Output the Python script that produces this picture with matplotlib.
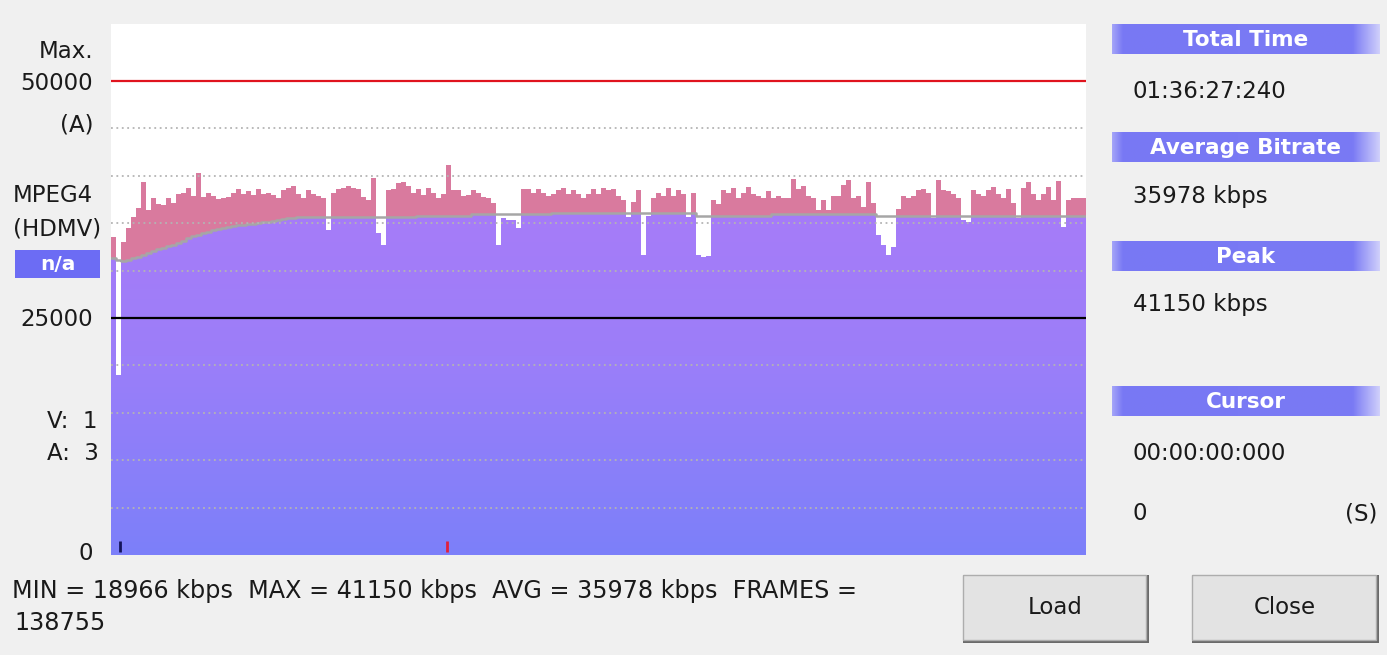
import numpy as np
import matplotlib
matplotlib.use('Agg')
import matplotlib.pyplot as plt
from matplotlib.colors import LinearSegmentedColormap
from matplotlib.patches import Rectangle, PathPatch
from matplotlib.path import Path

# ---------------- data ----------------
total_seconds = 5787.24
bitrate_kbps = [
    33500, 18966, 33000, 34450, 35600, 36550, 39300, 36350, 37700, 37000,
    36860, 37600, 37080, 38100, 38200, 38750, 37900, 40300, 37800, 38200,
    37900, 37500, 37700, 37800, 38200, 38650, 38100, 38350, 38000, 38650,
    38100, 38200, 38000, 37700, 38450, 38750, 38950, 38100, 37600, 38450,
    38100, 37900, 37600, 34250, 38200, 38650, 38750, 38950, 38750, 38650,
    37800, 37400, 39800, 34000, 32700, 38450, 38650, 39200, 39300, 38950,
    38200, 38650, 38000, 38750, 38200, 37600, 38100, 41150, 38450, 38450,
    37900, 38000, 38450, 38200, 37800, 37700, 37080, 32650, 35500, 35300,
    35300, 34500, 38650, 38650, 38200, 38650, 38200, 37900, 38100, 38450,
    38750, 38100, 38450, 38100, 37700, 38100, 38550, 38100, 38750, 38450,
    38550, 37900, 37400, 35600, 37200, 38450, 31600, 35800, 37600, 38200,
    37900, 38750, 37900, 38450, 38100, 35600, 38200, 31600, 31400, 31500,
    37400, 37000, 38450, 38200, 38750, 37600, 38200, 38850, 38100, 37900,
    37700, 38350, 37600, 37900, 37700, 37700, 39700, 38650, 38950, 37900,
    37600, 36350, 37400, 36350, 37900, 37900, 39050, 39500, 37700, 37900,
    36650, 39300, 37080, 33700, 32650, 31600, 32450, 36500, 37900, 37700,
    37900, 38450, 38550, 38200, 35500, 39500, 38450, 38350, 38100, 37700,
    35300, 35100, 38450, 38100, 37900, 38450, 38850, 38100, 37700, 38650,
    37080, 35500, 38750, 39300, 38100, 37400, 38100, 38850, 37400, 39400,
    34550, 37400, 37700, 37700, 37600,
]
average_kbps = [
    31300, 31100, 31050, 31100, 31300, 31400, 31600, 31850, 32050, 32250,
    32400, 32550, 32700, 32950, 33150, 33400, 33600, 33800, 34000, 34100,
    34250, 34350, 34450, 34550, 34700, 34750, 34850, 34900, 34950, 35050,
    35100, 35150, 35200, 35300, 35400, 35500, 35550, 35600, 35600, 35650,
    35650, 35650, 35650, 35650, 35650, 35650, 35650, 35650, 35650, 35650,
    35650, 35650, 35650, 35650, 35650, 35650, 35650, 35650, 35650, 35650,
    35650, 35800, 35800, 35800, 35800, 35800, 35800, 35800, 35800, 35800,
    35800, 35800, 36000, 36000, 36000, 36000, 36000, 36000, 36000, 36000,
    36000, 36000, 36000, 36000, 36000, 36000, 36000, 36000, 36100, 36100,
    36100, 36100, 36100, 36100, 36100, 36100, 36100, 36100, 36100, 36100,
    36100, 36100, 36100, 36100, 36100, 36100, 36100, 36100, 36100, 36100,
    36100, 36100, 36100, 36100, 36100, 36100, 36100, 35750, 35750, 35750,
    35800, 35800, 35800, 35800, 35800, 35800, 35800, 35800, 35800, 35800,
    35800, 35800, 36000, 36000, 36000, 36000, 36000, 36000, 36000, 36000,
    36000, 36000, 36000, 36000, 36000, 36000, 36000, 36000, 36000, 36000,
    36000, 36000, 36000, 35750, 35750, 35750, 35750, 35750, 35750, 35750,
    35750, 35750, 35750, 35750, 35750, 35750, 35750, 35750, 35750, 35750,
    35750, 35750, 35750, 35750, 35750, 35750, 35750, 35750, 35750, 35750,
    35750, 35750, 35750, 35750, 35750, 35750, 35750, 35750, 35750, 35750,
    35750, 35750, 35750, 35750, 35750,
]
grid_levels = [5000, 10000, 15000, 20000, 30000, 35000, 40000, 45000]
max_level = 50000
ref_level = 25000
y_top = 56000
marker_times = [53, 1994]
marker_colors = ['#14145a', '#e0203c']

left_labels = [("Max.", 93, 51, 'right'), ("50000", 93, 83, 'right'), ("(A)", 93, 125, 'right'),
               ("MPEG4", 13, 196, 'left'), ("(HDMV)", 13, 229, 'left'),
               ("25000", 93, 319, 'right'), ("V:  1", 47, 421, 'left'),
               ("A:  3", 47, 454, 'left'), ("0", 93, 553, 'right')]
headers = [("Total Time", 24, 54), ("Average Bitrate", 132, 162),
           ("Peak", 241, 271), ("Cursor", 386, 416)]
values_right = [("01:36:27:240", 91), ("35978 kbps", 196), ("41150 kbps", 305),
                ("00:00:00:000", 453), ("0", 514)]
stats_line1 = "MIN = 18966 kbps  MAX = 41150 kbps  AVG = 35978 kbps  FRAMES ="
stats_line2 = "138755"
buttons = [("Load", 963, 1147), ("Close", 1192, 1377)]

# ---------------- figure ----------------
W, H = 1387, 655
fig = plt.figure(figsize=(W / 100, H / 100), dpi=100, facecolor='#f0f0f0')
bg = fig.add_axes([0, 0, 1, 1], zorder=0)
bg.set_facecolor('#f0f0f0')
bg.axis('off')

REG = 'DejaVu Sans'
FS = 16.5
TXT = '#1a1a1a'

hdr_cmap = LinearSegmentedColormap.from_list(
    'hdr', [(0.0, '#a4a4f8'), (0.04, '#7878f4'), (0.9, '#7a7af4'), (1.0, '#cfcffb')])
grad = np.linspace(0, 1, 256).reshape(1, -1)
for name, y0, y1 in headers:
    bg.imshow(grad, extent=(1112, 1380, y1, y0), aspect='auto', cmap=hdr_cmap, zorder=1)
    bg.text((1112 + 1380) / 2, (y0 + y1) / 2 + 1, name, color='white', fontsize=15.5,
            fontweight='bold', family='DejaVu Sans', ha='center', va='center', zorder=2)

for txt, y in values_right:
    bg.text(1133, y, txt, fontsize=FS, family=REG, ha='left', va='center', color=TXT)
bg.text(1377, 514, "(S)", fontsize=FS, family=REG, ha='right', va='center', color=TXT)

for txt, x, y, ha in left_labels:
    bg.text(x, y, txt, fontsize=FS, family=REG, ha=ha, va='center', color=TXT)

bg.add_patch(Rectangle((15, 250), 85, 28, facecolor='#6c6cf4', edgecolor='none', zorder=1))
bg.text(57.5, 264, "n/a", color='white', fontsize=14.5, fontweight='bold',
        family='DejaVu Sans', ha='center', va='center', zorder=2)

bg.text(12, 591, stats_line1, fontsize=17.2, family=REG, ha='left', va='center', color=TXT)
bg.text(14, 623, stats_line2, fontsize=17.2, family=REG, ha='left', va='center', color=TXT)

for label, x0, x1 in buttons:
    bg.add_patch(Rectangle((x0, 575), x1 - x0 + 2, 68, facecolor='#6a6a6a', edgecolor='none', zorder=1))
    bg.add_patch(Rectangle((x0, 575), x1 - x0 - 1, 65, facecolor='#e3e3e3',
                           edgecolor='#adadad', linewidth=1, zorder=2))
    bg.text((x0 + x1) / 2, 608, label, fontsize=FS, family=REG, ha='center', va='center',
            color=TXT, zorder=3)

bg.set_xlim(0, W)
bg.set_ylim(H, 0)

# ---------------- main chart ----------------
ax_left, ax_right, ax_top, ax_bot = 111, 1086, 24, 555
ax = fig.add_axes([ax_left / W, 1 - ax_bot / H, (ax_right - ax_left) / W, (ax_bot - ax_top) / H],
                  zorder=1)
ax.set_facecolor('white')
for s in ax.spines.values():
    s.set_visible(False)
ax.set_xticks([])
ax.set_yticks([])

b = np.array(bitrate_kbps, dtype=float)
a = np.array(average_kbps, dtype=float)
n = len(b)
dt = total_seconds / n
edges = np.arange(n + 1) * dt

low_top = np.minimum(b, a)
xs = np.repeat(edges, 2)[1:-1]
ys = np.repeat(low_top, 2)
verts = [(0, 0)] + list(zip(xs, ys)) + [(total_seconds, 0), (0, 0)]
clip = PathPatch(Path(verts), facecolor='none', edgecolor='none', transform=ax.transData)
ax.add_patch(clip)

purple = LinearSegmentedColormap.from_list('pp', ['#7c80fa', '#9c7ef9', '#aa7bf8'])
vgrad = np.linspace(0, 1, 256).reshape(-1, 1)
im = ax.imshow(vgrad, extent=(0, total_seconds, 0, 42000), origin='lower', aspect='auto',
               cmap=purple, zorder=1)
im.set_clip_path(clip)

upper = np.maximum(b, a)
ax.fill_between(edges, np.append(a, a[-1]), np.append(upper, upper[-1]), step='post',
                facecolor='#d97a9e', edgecolor='none', linewidth=0, zorder=2)
ax.step(edges, np.append(a, a[-1]), where='post', color='#a6a6a6', linewidth=1.8, zorder=3)

ax.hlines(grid_levels, 0, total_seconds, colors='#b4b4b4', linestyles=(0, (1, 2)),
          linewidth=1.3, zorder=4)
ax.axhline(max_level, color='#e0141e', linewidth=1.6, zorder=5)
ax.axhline(ref_level, color='#000000', linewidth=1.6, zorder=5)
for t, c in zip(marker_times, marker_colors):
    ax.vlines(t, 300, 1450, colors=c, linewidth=2, zorder=6)

ax.set_xlim(0, total_seconds)
ax.set_ylim(0, y_top)

fig.savefig('out.png', dpi=100, facecolor=fig.get_facecolor())
